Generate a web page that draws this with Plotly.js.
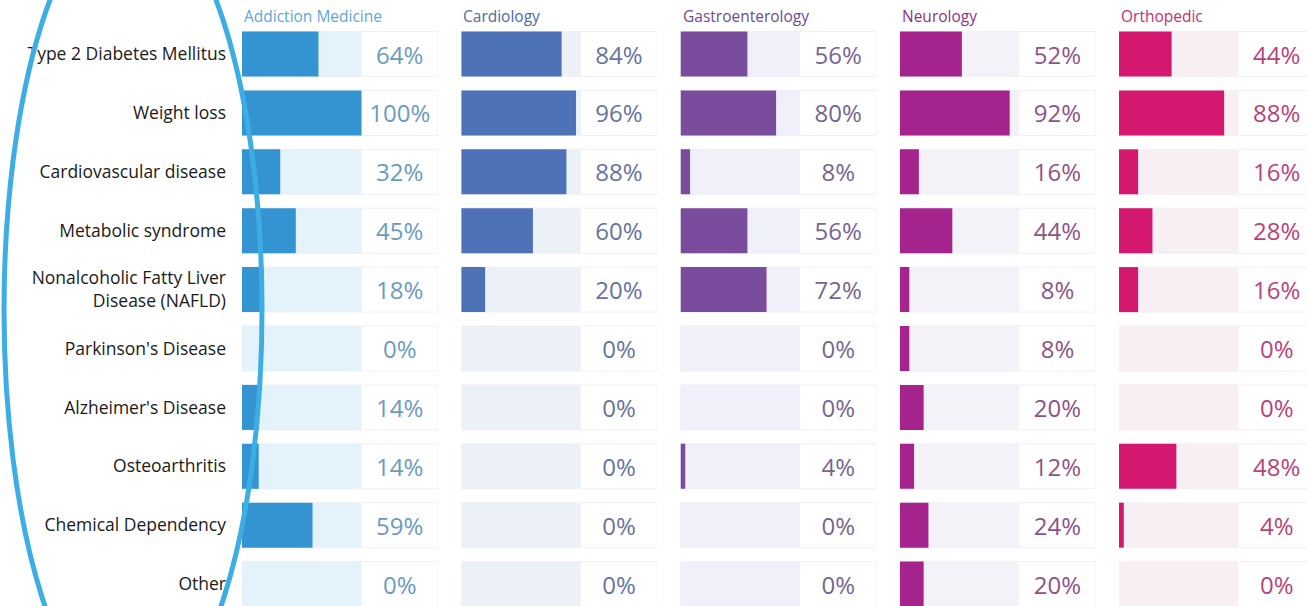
<!DOCTYPE html>
<html>
<head>
<meta charset="utf-8">
<script src="https://cdn.plot.ly/plotly-3.0.1.min.js"></script>
<style>html,body{margin:0;padding:0;background:#fff;}#chart{width:1307px;height:606px;}</style>
</head>
<body>
<div id="chart"></div>
<script>
// ---- data ----
const categories = [
  "Type 2 Diabetes Mellitus",
  "Weight loss",
  "Cardiovascular disease",
  "Metabolic syndrome",
  "Nonalcoholic Fatty Liver<br>Disease (NAFLD)",
  "Parkinson's Disease",
  "Alzheimer's Disease",
  "Osteoarthritis",
  "Chemical Dependency",
  "Other"
];
const specialties = ["Addiction Medicine", "Cardiology", "Gastroenterology", "Neurology", "Orthopedic"];
const addictionMedicine = [64, 100, 32, 45, 18, 0, 14, 14, 59, 0];
const cardiology        = [84, 96, 88, 60, 20, 0, 0, 0, 0, 0];
const gastroenterology  = [56, 80, 8, 56, 72, 0, 0, 4, 0, 0];
const neurology         = [52, 92, 16, 44, 8, 8, 20, 12, 24, 20];
const orthopedic        = [44, 88, 16, 28, 16, 0, 0, 48, 4, 0];
const seriesValues = [addictionMedicine, cardiology, gastroenterology, neurology, orthopedic];

// ---- styles ----
const barColors   = ["#3394d1", "#4d72b8", "#7a4c9d", "#a5238d", "#d5186f"];
const trackColors = ["#e4f2fc", "#ecf1f8", "#eff0f9", "#f4f1f8", "#f8eff5"];
const headColors  = ["#5fa8d6", "#4a6ba8", "#6c4c90", "#8d3288", "#c42e76"];
const textColors  = ["#6a9bbf", "#66749e", "#76668f", "#8e5387", "#b8427c"];

const W = 1307, H = 606;
const FULL = 100, BOX = 64;           // track spans 0..100, label box spans 100..164
const pxPerUnit = 119.5 / 100;
const panelStart = 242, panelPitch = 219.25, panelWidth = 196;

const traces = [];
const layout = {
  width: W, height: H,
  margin: {l: 0, r: 0, t: 0, b: 0},
  paper_bgcolor: "#ffffff",
  plot_bgcolor: "rgba(0,0,0,0)",
  showlegend: false,
  barmode: "overlay",
  bargap: 0.236,
  font: {family: "Open Sans, sans-serif"},
  yaxis: {
    type: "category",
    range: [9.372, -0.917],
    domain: [0, 1],
    anchor: "x",
    showgrid: false, zeroline: false, showline: false,
    ticks: "", ticklabelstandoff: 15,
    tickfont: {family: "Open Sans, sans-serif", size: 17.5, color: "#1a1a1a"}
  },
  annotations: [],
  shapes: []
};

specialties.forEach((name, k) => {
  const ax = k === 0 ? "x" : "x" + (k + 1);
  const axKey = k === 0 ? "xaxis" : "xaxis" + (k + 1);
  const startPx = panelStart + panelPitch * k;
  const widthPx = Math.min(panelWidth, W - startPx);
  layout[axKey] = {
    domain: [startPx / W, (startPx + widthPx) / W],
    range: [0, widthPx / pxPerUnit],
    anchor: "y",
    visible: false,
    fixedrange: true
  };
  const vals = seriesValues[k];
  // outer cell (white with faint border)
  traces.push({
    type: "bar", orientation: "h", xaxis: ax, yaxis: "y",
    y: categories, x: vals.map(() => FULL + BOX),
    marker: {color: "#ffffff", line: {color: "#f0f0f2", width: 1}},
    hoverinfo: "skip"
  });
  // track
  traces.push({
    type: "bar", orientation: "h", xaxis: ax, yaxis: "y",
    y: categories, x: vals.map(() => FULL),
    marker: {color: trackColors[k], line: {width: 0}},
    hoverinfo: "skip"
  });
  // value bars
  traces.push({
    type: "bar", orientation: "h", xaxis: ax, yaxis: "y",
    y: categories, x: vals,
    marker: {color: barColors[k], line: {width: 0}},
    name: name
  });
  // percentage labels in the box
  traces.push({
    type: "bar", orientation: "h", xaxis: ax, yaxis: "y",
    y: categories, x: vals.map(() => BOX), base: vals.map(() => FULL),
    marker: {color: "rgba(0,0,0,0)", line: {width: 0}},
    text: vals.map(v => v + "%"),
    textposition: "inside", insidetextanchor: "middle",
    constraintext: "none",
    textfont: {family: "Open Sans, sans-serif", size: 24, color: textColors[k]},
    hoverinfo: "skip"
  });
  layout.annotations.push({
    xref: "paper", yref: "paper",
    x: startPx / W, y: 1 - 16 / H,
    xanchor: "left", yanchor: "middle",
    text: name, showarrow: false,
    font: {family: "Open Sans, sans-serif", size: 15.5, color: headColors[k]}
  });
});

// blue hand-drawn style ellipse around the row labels
const cx = 133, cy = 310, rx = 129, ry = 405;
layout.shapes.push({
  type: "circle", xref: "paper", yref: "paper",
  x0: (cx - rx) / W, x1: (cx + rx) / W,
  y0: 1 - (cy + ry) / H, y1: 1 - (cy - ry) / H,
  line: {color: "#3caee3", width: 5},
  fillcolor: "rgba(0,0,0,0)",
  layer: "above"
});

Plotly.newPlot("chart", traces, layout, {staticPlot: true, displayModeBar: false});
</script>
</body>
</html>
